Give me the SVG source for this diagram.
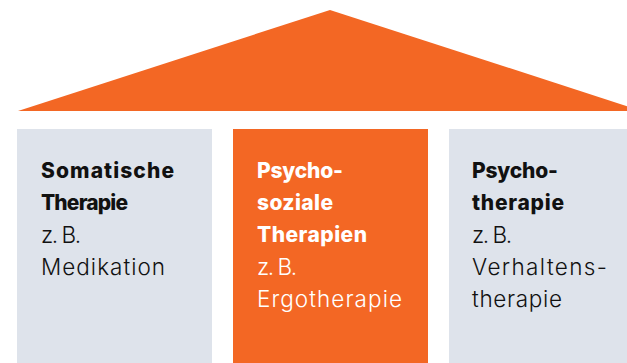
<svg xmlns="http://www.w3.org/2000/svg" width="627" height="363" viewBox="0 0 627 363">
<style>
.t{font-family:Inter,"Liberation Sans",sans-serif;font-size:21px}
.b{font-weight:800}
.l{font-weight:300;font-size:22.5px}
.dk{fill:#111}
.wh{fill:#fff}
.gray{fill:#dee3eb}
.or{fill:#f36724}
</style>
<rect width="627" height="363" fill="#fff"/>
<g id="roof"><polygon class="or" points="18,111 330,10 642,111"/></g>
<g id="somatisch">
<rect class="gray" x="17" y="129" width="195" height="234"/>
<text class="t b dk" x="41" y="178" textLength="133" lengthAdjust="spacing">Somatische</text>
<text class="t b dk" x="41" y="210" textLength="87" lengthAdjust="spacing">Therapie</text>
<text class="t l dk" x="41" y="243" textLength="40" lengthAdjust="spacing">z. B.</text>
<text class="t l dk" x="41" y="275" textLength="124" lengthAdjust="spacing">Medikation</text>
</g>
<g id="psychosozial">
<rect class="or" x="233" y="129" width="195" height="234"/>
<text class="t b wh" x="257" y="178" textLength="86" lengthAdjust="spacing">Psycho-</text>
<text class="t b wh" x="257" y="210" textLength="76" lengthAdjust="spacing">soziale</text>
<text class="t b wh" x="257" y="242" textLength="110" lengthAdjust="spacing">Therapien</text>
<text class="t l wh" x="257" y="275" textLength="40" lengthAdjust="spacing">z. B.</text>
<text class="t l wh" x="257" y="307" textLength="145" lengthAdjust="spacing">Ergotherapie</text>
</g>
<g id="psychotherapie">
<rect class="gray" x="449" y="129" width="178" height="234"/>
<text class="t b dk" x="472" y="178" textLength="86" lengthAdjust="spacing">Psycho-</text>
<text class="t b dk" x="472" y="210" textLength="92" lengthAdjust="spacing">therapie</text>
<text class="t l dk" x="472" y="243" textLength="40" lengthAdjust="spacing">z. B.</text>
<text class="t l dk" x="472" y="275" textLength="135" lengthAdjust="spacing">Verhaltens-</text>
<text class="t l dk" x="472" y="307" textLength="90" lengthAdjust="spacing">therapie</text>
</g>
</svg>
